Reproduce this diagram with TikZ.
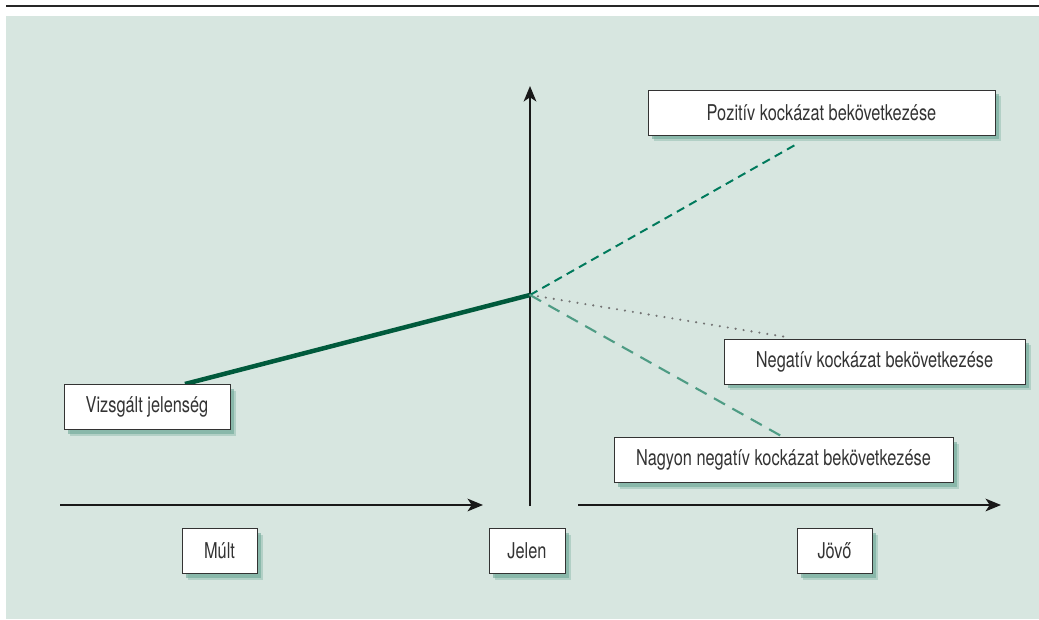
\documentclass[tikz,border=0pt]{standalone}
\usepackage{fontspec}
\setmainfont{TeX Gyre Heros}[FakeStretch=0.75]
\usepackage{tikz}
\usetikzlibrary{%
        arrows.meta,
        shadows,
    }
\definecolor{panel}{HTML}{D7E6E0}
\definecolor{darkgreen}{HTML}{005A3C}
\definecolor{midgreen}{HTML}{007A5C}
\definecolor{lightgreen}{HTML}{4E9C84}
\definecolor{shadowgreen}{HTML}{6FA898}
\definecolor{textgray}{HTML}{333333}
\newcommand{\pxu}{0.025cm}
\tikzset{%
    labelbox/.style={%
        draw=black!80,
        fill=white,
        text=textgray,
        minimum height=45*\pxu,
        font=\fontsize{15.5}{17}\selectfont,
        drop shadow={%
            shadow xshift=4.5pt,
            shadow yshift=-4.5pt,
            fill=shadowgreen,
            opacity=0.35,
        },
        drop shadow={%
            shadow xshift=3pt,
            shadow yshift=-3pt,
            fill=shadowgreen,
            opacity=0.6,
        },
    },
    axis/.style={%
        line width=1.5pt,
        black!90,
        -{Stealth[length=11pt, width=9pt, inset=3pt]},
    },
}

\begin{document}
\begin{tikzpicture}[x=\pxu, y=-\pxu]

    \useasboundingbox (0, 0) rectangle (1039, 619);
    %%%%%%%%%
    % Panel %
    %%%%%%%%%
    \fill[panel] (6, 16) rectangle (1039, 619);
    \draw[line width=1.2pt, black!85] (6, 6) -- (1039, 6);

    %%%%%%%%
    % Axes %
    %%%%%%%%
    \coordinate (past-start) at (60, 505);
    \coordinate (past-end) at (483, 505);
    \coordinate (future-start) at (578, 505);
    \coordinate (future-end) at (1001, 505);
    \coordinate (now-bottom) at (530, 506);
    \coordinate (now-top) at (530, 86);

    \draw[axis] (past-start) -- (past-end);
    \draw[axis] (future-start) -- (future-end);
    \draw[axis] (now-bottom) -- (now-top);

    % Time labels
    \node[labelbox, minimum width=75*\pxu] (mult) at (219.5, 551) {Múlt};
    \node[labelbox, minimum width=76*\pxu] (jelen) at (527, 551) {Jelen};
    \node[labelbox, minimum width=75*\pxu] (jovo) at (834.5, 551) {Jövő};

    %%%%%%%%%%%%
    % Outcomes %
    %%%%%%%%%%%%
    \coordinate (now) at (530, 295);
    \coordinate (trend-start) at (185, 384);
    \coordinate (pos-end) at (795, 145);
    \coordinate (neg-end) at (786, 337);
    \coordinate (vneg-end) at (783, 437);

    \draw[line width=3.2pt, darkgreen] (trend-start) -- (now);
    \draw[line width=1.4pt, midgreen, dash pattern=on 6pt off 4pt]
        (now) -- (pos-end);
    \draw[line width=1.7pt, black!55, line cap=round,
        dash pattern=on 0pt off 5.7pt] (now) -- (neg-end);
    \draw[line width=1.5pt, lightgreen, dash pattern=on 9pt off 6pt]
        (now) -- (vneg-end);

    \node[labelbox, minimum width=166*\pxu] (vizsgalt) at (147, 407)
        {Vizsgált jelenség};
    \node[labelbox, minimum width=347*\pxu] (pozitiv) at (821.5, 112.5)
        {Pozitív kockázat bekövetkezése};
    \node[labelbox, minimum width=301*\pxu] (negativ) at (874.5, 361.5)
        {Negatív kockázat bekövetkezése};
    \node[labelbox, minimum width=339*\pxu] (nagyon) at (783.5, 460)
        {Nagyon negatív kockázat bekövetkezése};

\end{tikzpicture}
\end{document}
